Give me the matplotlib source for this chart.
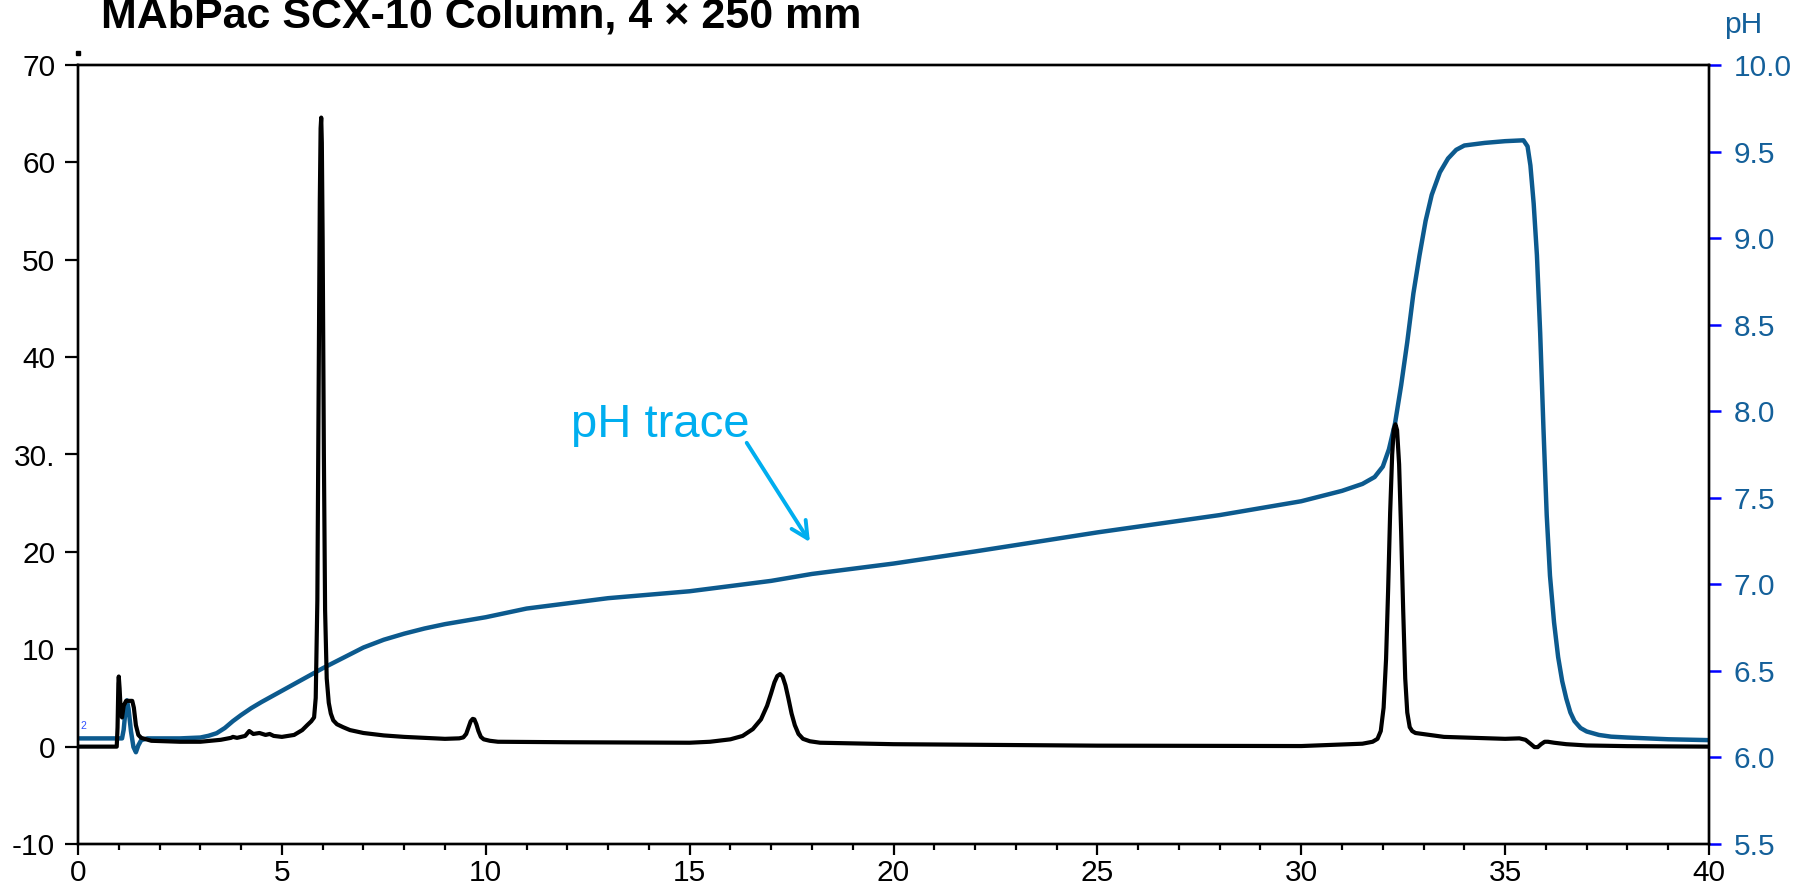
import matplotlib
matplotlib.use("Agg")
import matplotlib.pyplot as plt
from matplotlib.ticker import MultipleLocator, FixedLocator

plt.rcParams['font.family'] = ['Liberation Sans', 'DejaVu Sans']

# UV chromatogram: retention time (min) and signal (mAU)
uv_time = [0.0, 0.95, 0.97, 0.99, 1.0, 1.02, 1.05, 1.08, 1.12, 1.18, 1.33, 1.37,
           1.42, 1.48, 1.55, 1.8, 2.5, 3.0, 3.5, 3.75, 3.8, 3.9, 4.1, 4.2, 4.3,
           4.45, 4.6, 4.7, 4.8, 5.0, 5.3, 5.5, 5.62, 5.72, 5.79, 5.83, 5.87,
           5.9, 5.93, 5.95, 5.965, 5.98, 6.0, 6.03, 6.06, 6.1, 6.15, 6.2,
           6.26, 6.35, 6.5, 6.67, 7.0, 7.5, 8.0, 9.0, 9.35, 9.45, 9.52, 9.58,
           9.63, 9.68, 9.72, 9.77, 9.82, 9.88, 9.95, 10.1, 10.3, 12.0, 15.0,
           15.5, 16.0, 16.3, 16.55, 16.75, 16.9, 17.0, 17.08, 17.15, 17.22,
           17.28, 17.35, 17.42, 17.5, 17.58, 17.67, 17.78, 17.95, 18.2, 20.0,
           25.0, 30.0, 31.5, 31.75, 31.87, 31.95, 32.02, 32.08, 32.13, 32.18,
           32.23, 32.27, 32.31, 32.35, 32.4, 32.45, 32.5, 32.55, 32.6, 32.66,
           32.72, 32.8, 33.5, 35.0, 35.35, 35.5, 35.62, 35.72, 35.8, 35.88,
           35.97, 36.05, 36.2, 36.5, 37.0, 38.0, 40.0]
uv_signal = [0.0, 0.0, 2.0, 6.5, 7.2, 6.0, 3.5, 3.0, 4.2, 4.7, 4.7, 4.0,
             2.2, 1.2, 0.9, 0.6, 0.5, 0.5, 0.7, 0.9, 1.0, 0.9, 1.1, 1.6, 1.3,
             1.4, 1.2, 1.3, 1.1, 1.0, 1.2, 1.7, 2.2, 2.6, 3.0, 5.0, 15.0,
             35.0, 56.0, 63.5, 64.6, 62.0, 52.0, 30.0, 14.0, 7.0, 4.5, 3.4,
             2.7, 2.3, 2.0, 1.7, 1.4, 1.15, 1.0, 0.8, 0.85, 0.95, 1.3, 2.0,
             2.6, 2.85, 2.8, 2.3, 1.6, 1.0, 0.75, 0.6, 0.5, 0.45, 0.4,
             0.5, 0.75, 1.1, 1.8, 2.8, 4.2, 5.5, 6.6, 7.25, 7.45,
             7.2, 6.3, 5.0, 3.4, 2.2, 1.3, 0.8, 0.55, 0.4, 0.25,
             0.1, 0.06, 0.3, 0.5, 0.8, 1.6, 4.0, 9.0, 16.0, 24.0,
             30.0, 32.6, 33.1, 32.5, 29.0, 22.0, 14.0, 7.0, 3.5, 2.0,
             1.6, 1.4, 1.0, 0.8, 0.85, 0.7, 0.3, -0.05, -0.05, 0.25,
             0.5, 0.5, 0.4, 0.25, 0.12, 0.05, 0.0]

# pH trace
ph_time = [0.0, 1.08, 1.12, 1.16, 1.2, 1.24, 1.3, 1.36, 1.42, 1.48, 1.55, 1.7,
           2.5, 3.0, 3.2, 3.4, 3.6, 3.8, 4.0, 4.25, 4.5, 5.0, 5.5, 6.0, 6.5,
           7.0, 7.5, 8.0, 8.5, 9.0, 9.5, 10.0, 10.5, 11.0, 12.0, 13.0, 14.0,
           15.0, 16.0, 17.0, 18.0, 19.0, 20.0, 22.0, 25.0, 28.0, 30.0, 31.0,
           31.5, 31.8, 32.0, 32.15, 32.3, 32.45, 32.6, 32.75, 32.9, 33.05,
           33.2, 33.4, 33.6, 33.8, 34.0, 34.5, 35.0, 35.45, 35.55, 35.62,
           35.7, 35.78, 35.86, 35.94, 36.02, 36.1, 36.2, 36.3, 36.4, 36.5,
           36.6, 36.7, 36.85, 37.0, 37.3, 37.6, 38.0, 39.0, 40.0]
ph_value = [6.11, 6.11, 6.16, 6.26, 6.33, 6.28, 6.15, 6.06, 6.03, 6.07, 6.10, 6.11,
            6.11, 6.115, 6.125, 6.14, 6.17, 6.21, 6.245, 6.285, 6.32, 6.385, 6.45, 6.515, 6.575,
            6.635, 6.68, 6.715, 6.745, 6.77, 6.79, 6.81, 6.835, 6.86, 6.89, 6.92, 6.94,
            6.96, 6.99, 7.02, 7.06, 7.09, 7.12, 7.19, 7.30, 7.40, 7.48, 7.54,
            7.58, 7.62, 7.68, 7.78, 7.93, 8.15, 8.40, 8.68, 8.90, 9.10,
            9.25, 9.38, 9.46, 9.51, 9.535, 9.55, 9.56, 9.565, 9.53, 9.42,
            9.20, 8.90, 8.45, 7.90, 7.40, 7.05, 6.78, 6.58, 6.44, 6.34,
            6.26, 6.21, 6.17, 6.15, 6.13, 6.12, 6.115, 6.105, 6.10]

uv_ticks = [-10, 0, 10, 20, 30, 40, 50, 60, 70]
uv_labels = ['-10', '0', '10', '20', '30.', '40', '50', '60', '70']
ph_ticks = [5.5, 6.0, 6.5, 7.0, 7.5, 8.0, 8.5, 9.0, 9.5, 10.0]

ph_color = '#0c5a8e'
ph_text = '#14609a'
note_color = '#00aeef'
fs = 21.5

fig = plt.figure(figsize=(17.98, 8.88), dpi=100)
ax = fig.add_axes([78 / 1798, 44 / 888, 1631 / 1798, 779 / 888])
ax2 = ax.twinx()

# chromatogram drawn on top of the pH curve
ax.set_zorder(ax2.get_zorder() + 1)
ax.patch.set_visible(False)

ax2.plot(ph_time, ph_value, color=ph_color, lw=3.2, solid_joinstyle='round')
ax.plot(uv_time, uv_signal, color='black', lw=3.0, solid_joinstyle='round')

ax.set_xlim(0, 40)
ax.set_ylim(-10, 70)
ax2.set_ylim(5.5, 10.0)

ax.xaxis.set_major_locator(MultipleLocator(5))
ax.xaxis.set_minor_locator(MultipleLocator(1))
ax.yaxis.set_major_locator(FixedLocator(uv_ticks))
ax.set_yticklabels(uv_labels)
ax2.yaxis.set_major_locator(FixedLocator(ph_ticks))
ax2.set_yticklabels(['%.1f' % v for v in ph_ticks])

ax.tick_params(axis='x', which='major', direction='out', length=8, width=1.6,
               pad=3, labelsize=fs)
ax.tick_params(axis='x', which='minor', direction='out', length=4.5, width=1.6)
ax.tick_params(axis='y', direction='out', length=9.4, width=1.6, pad=7,
               labelsize=fs)
ax2.tick_params(axis='y', direction='out', length=8.6, width=1.8, pad=9,
                labelsize=fs, color='#0000ff', labelcolor=ph_text)

for a in (ax, ax2):
    for s in a.spines.values():
        s.set_linewidth(1.7)
        s.set_color('black')

# pH curve callout
ax.text(12.1, 31.8, 'pH trace', fontsize=34, color=note_color,
        ha='left', va='baseline')
ax.annotate('', xy=(17.95, 21.0), xytext=(16.4, 31.2),
            arrowprops=dict(arrowstyle='->', color=note_color, lw=2.8,
                            mutation_scale=30, shrinkA=0, shrinkB=0))

# trace number and stray dot from the data system
ax.text(0.05, 1.6, '2', color='#3050ff', fontsize=7.5, ha='left', va='bottom')
ax.plot([0], [71.2], marker='s', ms=2.5, color='black', clip_on=False)

fig.text(101 / 1798, 1 - 28 / 888, 'MAbPac SCX-10 Column, 4 \u00d7 250 mm',
         fontsize=31, fontweight='bold', ha='left', va='baseline')
fig.text(1724 / 1798, 1 - 33 / 888, 'pH', fontsize=fs, color=ph_text,
         ha='left', va='baseline')

fig.savefig('out.png', dpi=100)
